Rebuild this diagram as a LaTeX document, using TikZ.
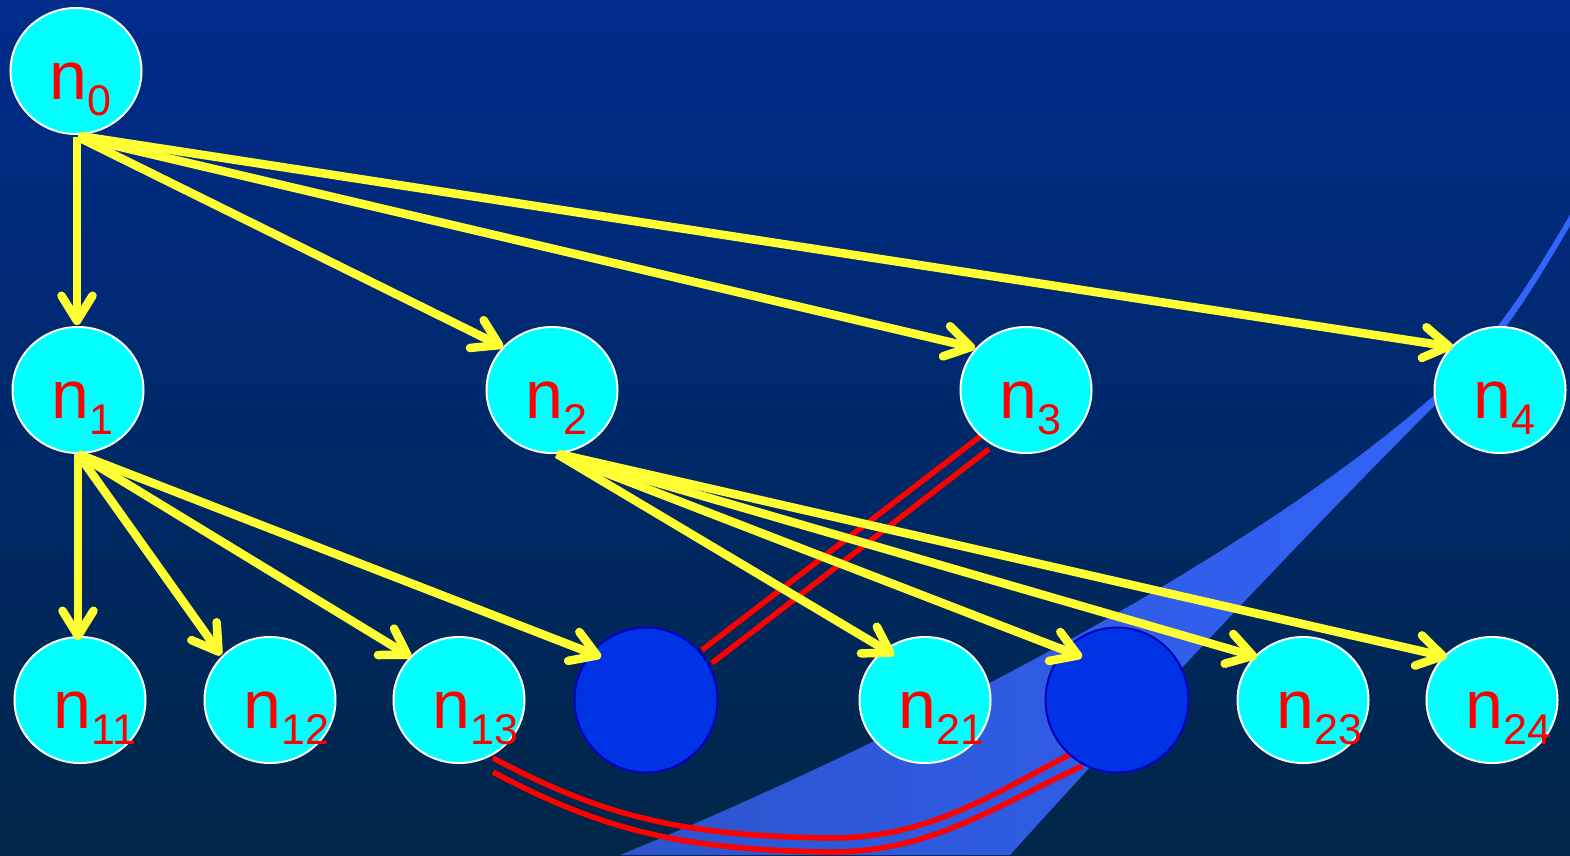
\documentclass[tikz,border=0pt]{standalone}
\usepackage{fontspec}
\setmainfont{Liberation Sans}
\usetikzlibrary{arrows.meta,shapes.geometric}
\definecolor{cyanN}{RGB}{0,255,255}
\definecolor{blueN}{RGB}{0,51,230}
\definecolor{blueB}{RGB}{0,0,190}
\definecolor{yel}{RGB}{255,255,51}
\definecolor{bgtop}{RGB}{0,44,140}
\definecolor{bgbot}{RGB}{0,38,72}
\definecolor{swL}{RGB}{45,84,205}
\definecolor{swR}{RGB}{51,102,255}
\pgfdeclarelayer{bg}
\pgfsetlayers{bg,main}
\newcommand\nlab[1]{\raisebox{-28pt}[0pt][0pt]{\makebox[0pt][l]{\hspace*{-26.5pt}\fontsize{68}{68}\selectfont n\raisebox{-16pt}{\fontsize{43}{43}\selectfont #1}}}}
\begin{document}
\begin{tikzpicture}[x=1pt,y=-1pt,
  tnode/.style={ellipse, fill=cyanN, draw=white, line width=2pt, minimum width=131pt, minimum height=126pt, inner sep=0pt, text=red},
  bnode/.style={ellipse, fill=blueN, draw=blueB, line width=2pt, minimum width=143pt, minimum height=145pt, inner sep=0pt},
  yarrow/.style={draw=yel, line width=8.5pt, -{Straight Barb[length=25pt,width=31pt,round]}},
  redline/.style={draw=red, line width=5.5pt}]
\useasboundingbox (0,0) rectangle (1570,855);
% nodes
\node[tnode] (n0) at (76,71) {\nlab{0}};
\node[tnode] (n1) at (78,390) {\nlab{1}};
\node[tnode] (n2) at (552,390) {\nlab{2}};
\node[tnode] (n3) at (1026,390) {\nlab{3}};
\node[tnode] (n4) at (1500,390) {\nlab{4}};
\node[tnode] (n11) at (80,700) {\nlab{11}};
\node[tnode] (n12) at (270,700) {\nlab{12}};
\node[tnode] (n13) at (459,700) {\nlab{13}};
\node[bnode] (b1) at (646,700) {};
\node[tnode] (n21) at (925,700) {\nlab{21}};
\node[bnode] (b2) at (1117,700) {};
\node[tnode] (n23) at (1303,700) {\nlab{23}};
\node[tnode] (n24) at (1492,700) {\nlab{24}};
% background layer: gradient, swoosh, red links
\begin{pgfonlayer}{bg}
\shade[top color=bgtop, bottom color=bgbot] (0,0) rectangle (1570,855);
\shade[left color=swL, right color=swR] (620,855) .. controls (900,740) and (1250,560) .. (1440,390) .. controls (1500,335) and (1540,265) .. (1570,215) -- (1570,226) .. controls (1542,272) and (1505,340) .. (1450,390) .. controls (1300,540) and (1150,700) .. (1010,855) -- cycle;
\draw[redline] ([shift={(-44,45)}]n3.center) -- ([shift={(56,-50)}]b1.center);
\draw[redline] ([shift={(-37,59)}]n3.center) -- ([shift={(66,-37)}]b1.center);
\draw[redline] ([shift={(34,58)}]n13.center) .. controls (600,815) and (680,836) .. (830,838) .. controls (930,838) and (990,795) .. ([shift={(-42,52)}]b2.center);
\draw[redline] ([shift={(34,72)}]n13.center) .. controls (600,829) and (680,850) .. (830,852) .. controls (930,852) and (990,809) .. ([shift={(-35,66)}]b2.center);
\end{pgfonlayer}
% yellow arrows
\draw[yarrow] ([shift={(1,2)}]n0.south) -- ([shift={(-1,-65)}]n1.center);
\draw[yarrow] ([shift={(2,2)}]n0.south) -- ([shift={(-49,-43)}]n2.center);
\draw[yarrow] ([shift={(2,2)}]n0.south) -- ([shift={(-51,-42)}]n3.center);
\draw[yarrow] ([shift={(4,1)}]n0.south) -- ([shift={(-47,-43)}]n4.center);
\draw[yarrow] (n1.south) -- ([shift={(-2,-60)}]n11.center);
\draw[yarrow] (n1.south) -- ([shift={(-49,-45)}]n12.center);
\draw[yarrow] (n1.south) -- ([shift={(-48,-43)}]n13.center);
\draw[yarrow] (n1.south) -- ([shift={(-45,-43)}]b1.center);
\draw[yarrow] ([shift={(5,0)}]n2.south) -- ([shift={(-31,-45)}]n21.center);
\draw[yarrow] ([shift={(5,0)}]n2.south) -- ([shift={(-35,-43)}]b2.center);
\draw[yarrow] ([shift={(6,0)}]n2.south) -- ([shift={(-46,-43)}]n23.center);
\draw[yarrow] ([shift={(7,0)}]n2.south) -- ([shift={(-45,-43)}]n24.center);
\end{tikzpicture}
\end{document}
